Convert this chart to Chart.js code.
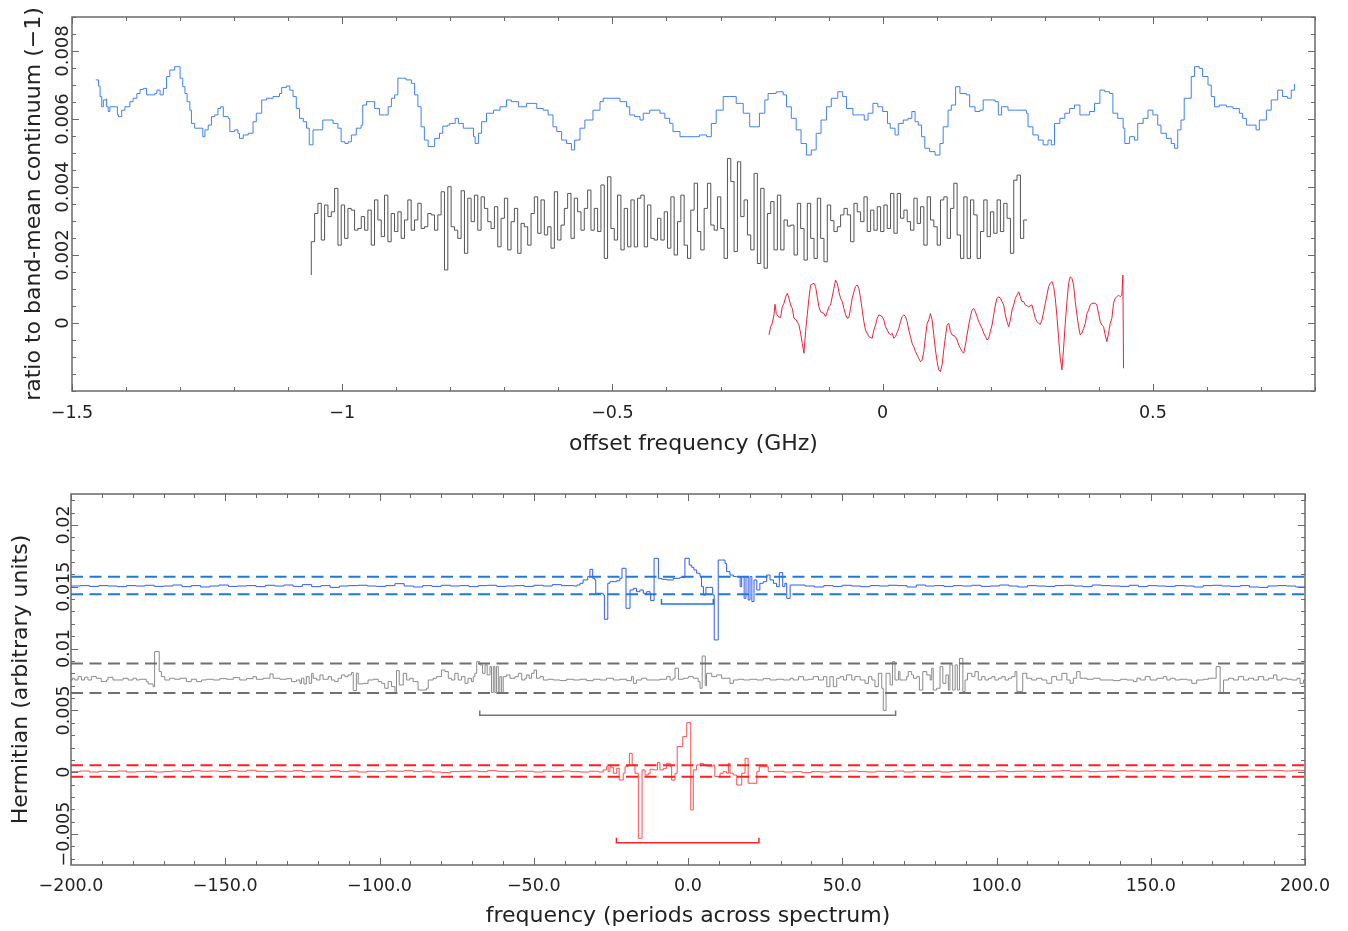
<!DOCTYPE html>
<html><head><meta charset="utf-8">
<script src="https://cdn.jsdelivr.net/npm/chart.js@4.4.1/dist/chart.umd.min.js"></script>
<style>
html,body{margin:0;padding:0;background:#fff;}
#wrap{position:relative;width:1348px;height:931px;overflow:hidden;}
canvas{position:absolute;left:0;}
#c1{top:0;width:1348px;height:470px;}
#c2{top:470px;width:1348px;height:461px;}
</style></head><body>
<div id="wrap"><canvas id="c1" width="1348" height="470"></canvas><canvas id="c2" width="1348" height="461"></canvas></div>
<script>
// ---------- tick labels ----------
const topXTicks = [-1.5, -1, -0.5, 0, 0.5];
const topYTicks = [0, 0.002, 0.004, 0.006, 0.008];
const botXTicks = [-200, -150, -100, -50, 0, 50, 100, 150, 200];
const botYTicks = [-0.005, 0, 0.005, 0.01, 0.015, 0.02];

// ---------- top panel: [offset frequency GHz, ratio] ----------
const blueTop = [[-1.456,0.00715],[-1.451,0.00697],[-1.448,0.00666],[-1.445,0.00636],[-1.442,0.00656],[-1.437,0.00659],[-1.436,0.00636],[-1.433,0.00622],[-1.430,0.00636],[-1.420,0.00636],[-1.416,0.00612],[-1.414,0.00607],[-1.408,0.00626],[-1.402,0.00636],[-1.393,0.00651],[-1.387,0.00661],[-1.380,0.00675],[-1.374,0.00687],[-1.368,0.00690],[-1.362,0.00671],[-1.356,0.00671],[-1.347,0.00675],[-1.343,0.00685],[-1.337,0.00671],[-1.331,0.00690],[-1.325,0.00725],[-1.319,0.00744],[-1.310,0.00754],[-1.307,0.00754],[-1.300,0.00720],[-1.295,0.00695],[-1.291,0.00675],[-1.287,0.00651],[-1.282,0.00626],[-1.279,0.00587],[-1.273,0.00573],[-1.263,0.00573],[-1.258,0.00548],[-1.254,0.00568],[-1.248,0.00582],[-1.242,0.00607],[-1.236,0.00612],[-1.230,0.00631],[-1.225,0.00636],[-1.220,0.00607],[-1.211,0.00602],[-1.208,0.00563],[-1.199,0.00568],[-1.193,0.00558],[-1.190,0.00543],[-1.183,0.00553],[-1.174,0.00558],[-1.165,0.00592],[-1.159,0.00617],[-1.149,0.00656],[-1.140,0.00661],[-1.128,0.00666],[-1.116,0.00675],[-1.112,0.00693],[-1.103,0.00697],[-1.097,0.00685],[-1.091,0.00666],[-1.085,0.00631],[-1.079,0.00602],[-1.072,0.00592],[-1.066,0.00573],[-1.061,0.00524],[-1.054,0.00568],[-1.042,0.00568],[-1.036,0.00597],[-1.026,0.00597],[-1.017,0.00587],[-1.008,0.00573],[-1.002,0.00533],[-0.995,0.00528],[-0.989,0.00533],[-0.983,0.00553],[-0.974,0.00573],[-0.965,0.00582],[-0.962,0.00641],[-0.955,0.00651],[-0.946,0.00651],[-0.940,0.00631],[-0.931,0.00612],[-0.922,0.00612],[-0.915,0.00636],[-0.909,0.00661],[-0.903,0.00671],[-0.897,0.00720],[-0.888,0.00720],[-0.882,0.00715],[-0.872,0.00705],[-0.866,0.00671],[-0.860,0.00636],[-0.854,0.00577],[-0.848,0.00538],[-0.841,0.00519],[-0.832,0.00519],[-0.829,0.00543],[-0.820,0.00558],[-0.814,0.00579],[-0.805,0.00582],
[-0.801,0.00587],[-0.791,0.00602],[-0.785,0.00587],[-0.776,0.00573],[-0.767,0.00573],[-0.757,0.00548],[-0.754,0.00528],[-0.748,0.00558],[-0.742,0.00592],[-0.733,0.00617],[-0.720,0.00626],[-0.708,0.00636],[-0.696,0.00656],[-0.687,0.00651],[-0.674,0.00636],[-0.659,0.00646],[-0.640,0.00631],[-0.628,0.00626],[-0.619,0.00612],[-0.610,0.00577],[-0.603,0.00563],[-0.594,0.00538],[-0.585,0.00528],[-0.576,0.00509],[-0.570,0.00538],[-0.560,0.00573],[-0.551,0.00597],[-0.536,0.00626],[-0.523,0.00651],[-0.517,0.00661],[-0.505,0.00661],[-0.486,0.00651],[-0.474,0.00636],[-0.468,0.00612],[-0.459,0.00607],[-0.449,0.00597],[-0.443,0.00617],[-0.431,0.00626],[-0.412,0.00617],[-0.403,0.00602],[-0.394,0.00587],[-0.388,0.00563],[-0.375,0.00548],[-0.363,0.00548],[-0.351,0.00548],[-0.339,0.00553],[-0.326,0.00548],[-0.317,0.00587],[-0.308,0.00626],[-0.295,0.00666],[-0.283,0.00666],[-0.271,0.00646],[-0.258,0.00617],[-0.246,0.00577],[-0.234,0.00577],[-0.228,0.00617],[-0.218,0.00656],[-0.212,0.00675],[-0.197,0.00680],[-0.184,0.00671],[-0.178,0.00636],[-0.169,0.00602],[-0.160,0.00568],[-0.151,0.00528],[-0.141,0.00494],[-0.132,0.00509],[-0.123,0.00558],[-0.114,0.00597],[-0.104,0.00636],[-0.095,0.00661],[-0.083,0.00680],[-0.074,0.00666],[-0.067,0.00631],[-0.055,0.00612],[-0.043,0.00612],[-0.034,0.00597],[-0.027,0.00617],[-0.018,0.00646],[-0.009,0.00636],[0.000,0.00622],[0.009,0.00587],
[0.014,0.00573],[0.023,0.00553],[0.029,0.00587],[0.038,0.00597],[0.047,0.00602],[0.054,0.00622],[0.060,0.00592],[0.066,0.00582],[0.072,0.00548],[0.078,0.00514],[0.087,0.00504],[0.097,0.00494],[0.106,0.00528],[0.112,0.00577],[0.121,0.00626],[0.127,0.00641],[0.135,0.00695],[0.143,0.00675],[0.155,0.00671],[0.161,0.00636],[0.171,0.00622],[0.180,0.00626],[0.186,0.00656],[0.198,0.00656],[0.208,0.00651],[0.214,0.00612],[0.220,0.00636],[0.232,0.00626],[0.244,0.00626],[0.254,0.00626],[0.266,0.00617],[0.269,0.00577],[0.278,0.00553],[0.288,0.00538],[0.297,0.00524],[0.306,0.00538],[0.312,0.00524],[0.318,0.00587],[0.328,0.00602],[0.337,0.00617],[0.346,0.00631],[0.355,0.00641],[0.365,0.00612],[0.374,0.00612],[0.383,0.00622],[0.392,0.00646],[0.402,0.00685],[0.411,0.00680],[0.420,0.00675],[0.426,0.00617],[0.435,0.00602],[0.445,0.00573],[0.448,0.00528],[0.457,0.00548],[0.466,0.00538],[0.472,0.00587],[0.482,0.00602],[0.491,0.00626],[0.500,0.00612],[0.509,0.00582],[0.515,0.00558],[0.525,0.00543],[0.534,0.00528],[0.540,0.00514],[0.546,0.00568],[0.552,0.00597],[0.558,0.00661],[0.571,0.00725],[0.577,0.00754],[0.586,0.00749],[0.592,0.00725],[0.602,0.00700],[0.608,0.00666],[0.614,0.00636],[0.623,0.00641],[0.636,0.00636],[0.648,0.00631],[0.660,0.00617],[0.666,0.00602],[0.673,0.00582],[0.682,0.00582],[0.691,0.00568],[0.697,0.00597],[0.710,0.00626],[0.719,0.00656],[0.731,0.00685],[0.740,0.00666],[0.749,0.00661],[0.756,0.00685],[0.762,0.00703]];

const grayTop = [[-1.0572,0.00141],
[-1.0572,0.00239],[-1.0510,0.00322],[-1.0449,0.00352],[-1.0387,0.00244],[-1.0326,0.00347],[-1.0264,0.00313],[-1.0202,0.00327],[-1.0141,0.00396],[-1.0079,0.00229],[-1.0018,0.00347],[-0.9956,0.00249],[-0.9894,0.00337],[-0.9833,0.00332],[-0.9771,0.00273],[-0.9710,0.00278],[-0.9648,0.00313],[-0.9586,0.00273],[-0.9525,0.00332],[-0.9463,0.00229],[-0.9402,0.00362],[-0.9340,0.00303],[-0.9278,0.00254],[-0.9217,0.00376],[-0.9155,0.00239],[-0.9094,0.00322],
[-0.9032,0.00269],[-0.8970,0.00327],[-0.8909,0.00249],[-0.8847,0.00303],[-0.8786,0.00362],[-0.8724,0.00273],[-0.8662,0.00303],[-0.8601,0.00352],[-0.8539,0.00278],[-0.8478,0.00283],[-0.8416,0.00322],[-0.8354,0.00318],[-0.8293,0.00273],[-0.8231,0.00318],[-0.8170,0.00386],[-0.8108,0.00156],[-0.8046,0.00401],[-0.7985,0.00283],[-0.7923,0.00273],[-0.7862,0.00249],[-0.7800,0.00389],[-0.7738,0.00205],[-0.7677,0.00367],[-0.7615,0.00298],[-0.7554,0.00376],
[-0.7492,0.00273],[-0.7430,0.00371],[-0.7369,0.00337],[-0.7307,0.00298],[-0.7246,0.00278],[-0.7184,0.00342],[-0.7122,0.00224],[-0.7061,0.00308],[-0.6999,0.00367],[-0.6938,0.00215],[-0.6876,0.00298],[-0.6814,0.00337],[-0.6753,0.00205],[-0.6691,0.00293],[-0.6630,0.00283],[-0.6568,0.00229],[-0.6506,0.00322],[-0.6445,0.00371],[-0.6383,0.00264],[-0.6322,0.00362],[-0.6260,0.00259],[-0.6198,0.00283],[-0.6137,0.00220],[-0.6075,0.00386],[-0.6014,0.00244],
[-0.5952,0.00288],[-0.5890,0.00337],[-0.5829,0.00381],[-0.5767,0.00249],[-0.5706,0.00367],[-0.5644,0.00327],[-0.5582,0.00273],[-0.5521,0.00337],[-0.5459,0.00391],[-0.5398,0.00273],[-0.5336,0.00337],[-0.5274,0.00269],[-0.5213,0.00406],[-0.5151,0.00190],[-0.5090,0.00430],[-0.5028,0.00278],[-0.4966,0.00244],[-0.4905,0.00376],[-0.4843,0.00215],[-0.4782,0.00337],[-0.4720,0.00224],[-0.4658,0.00362],[-0.4597,0.00224],[-0.4535,0.00367],[-0.4474,0.00376],
[-0.4412,0.00224],[-0.4350,0.00347],[-0.4289,0.00249],[-0.4227,0.00244],[-0.4166,0.00308],[-0.4104,0.00244],[-0.4042,0.00327],[-0.3981,0.00220],[-0.3919,0.00371],[-0.3858,0.00200],[-0.3796,0.00298],[-0.3734,0.00376],[-0.3673,0.00229],[-0.3611,0.00190],[-0.3550,0.00332],[-0.3488,0.00411],[-0.3426,0.00269],[-0.3365,0.00215],[-0.3303,0.00337],[-0.3242,0.00411],[-0.3180,0.00288],[-0.3118,0.00273],[-0.3057,0.00371],[-0.2995,0.00278],[-0.2934,0.00190],
[-0.2872,0.00484],[-0.2810,0.00416],[-0.2749,0.00210],[-0.2687,0.00474],[-0.2626,0.00313],[-0.2564,0.00362],[-0.2502,0.00259],[-0.2441,0.00215],[-0.2379,0.00440],[-0.2318,0.00175],[-0.2256,0.00396],[-0.2194,0.00161],[-0.2133,0.00322],[-0.2071,0.00357],[-0.2010,0.00215],[-0.1948,0.00376],[-0.1886,0.00215],[-0.1825,0.00303],[-0.1763,0.00285],[-0.1702,0.00288],[-0.1640,0.00200],[-0.1578,0.00352],[-0.1517,0.00278],[-0.1455,0.00185],[-0.1394,0.00352],
[-0.1332,0.00249],[-0.1270,0.00190],[-0.1209,0.00367],[-0.1147,0.00249],[-0.1086,0.00180],[-0.1024,0.00347],[-0.0962,0.00301],[-0.0901,0.00269],[-0.0839,0.00283],[-0.0778,0.00318],[-0.0716,0.00337],[-0.0654,0.00318],[-0.0593,0.00239],[-0.0531,0.00352],[-0.0470,0.00327],[-0.0408,0.00298],[-0.0346,0.00371],[-0.0285,0.00269],[-0.0223,0.00332],[-0.0162,0.00273],[-0.0100,0.00342],[-0.0038,0.00269],[0.0023,0.00347],[0.0085,0.00278],[0.0146,0.00381],
[0.0208,0.00264],[0.0270,0.00381],[0.0331,0.00308],[0.0393,0.00332],[0.0454,0.00298],[0.0516,0.00273],[0.0578,0.00367],[0.0639,0.00293],[0.0701,0.00342],[0.0762,0.00229],[0.0824,0.00371],[0.0886,0.00303],[0.0947,0.00283],[0.1009,0.00229],[0.1070,0.00362],[0.1132,0.00371],[0.1194,0.00249],[0.1255,0.00337],[0.1317,0.00411],[0.1378,0.00259],[0.1440,0.00190],[0.1502,0.00371],[0.1563,0.00190],[0.1625,0.00362],[0.1686,0.00318],
[0.1748,0.00190],[0.1810,0.00269],[0.1871,0.00362],[0.1933,0.00254],[0.1994,0.00327],[0.2056,0.00264],[0.2118,0.00362],[0.2179,0.00269],[0.2241,0.00352],[0.2302,0.00308],[0.2364,0.00205],[0.2426,0.00420],[0.2487,0.00435],[0.2549,0.00249],[0.2610,0.00303],[0.2672,0.00303]];

const redTop = [[-0.2103,-0.00035],[-0.2072,-0.00011],[-0.2042,-0.00001],[-0.2011,0.00024],[-0.1992,0.00055],[-0.1968,0.00028],[-0.1937,0.00019],[-0.1888,0.00016],[-0.1857,0.00048],[-0.1826,0.00058],[-0.1795,0.00077],[-0.1764,0.00087],[-0.1734,0.00073],[-0.1703,0.00053],[-0.1672,0.00043],[-0.1641,0.00014],[-0.1598,0.00009],[-0.1549,-0.00006],[-0.1518,-0.00030],[-0.1487,-0.00060],[-0.1456,-0.00089],[-0.1426,-0.00025],[-0.1395,0.00024],[-0.1364,0.00073],[-0.1333,0.00112],[-0.1272,0.00117],[-0.1241,0.00107],[-0.1210,0.00077],[-0.1179,0.00048],[-0.1148,0.00033],[-0.1087,0.00028],[-0.1056,0.00019],[-0.1025,0.00033],[-0.0994,0.00048],[-0.0964,0.00053],[-0.0933,0.00077],[-0.0902,0.00102],[-0.0871,0.00126],[-0.0840,0.00117],[-0.0810,0.00092],[-0.0779,0.00073],[-0.0748,0.00063],[-0.0717,0.00043],[-0.0686,0.00024],[-0.0656,0.00014],[-0.0625,0.00016],[-0.0594,0.00043],[-0.0563,0.00073],[-0.0532,0.00092],[-0.0502,0.00107],[-0.0471,0.00112],[-0.0440,0.00102],[-0.0409,0.00073],[-0.0378,0.00038],[-0.0348,0.00004],[-0.0317,-0.00021],[-0.0255,-0.00040],[-0.0194,-0.00045],[-0.0163,-0.00021],[-0.0132,-0.00006],[-0.0101,0.00014],[-0.0070,0.00024],[-0.0009,0.00019],[0.0022,0.00009],[0.0053,-0.00011],[0.0114,-0.00030],[0.0145,-0.00035],[0.0176,-0.00030],[0.0207,-0.00045],[0.0238,-0.00040],[0.0299,-0.00016],[0.0330,0.00004],[0.0361,0.00019],[0.0392,0.00024],[0.0422,0.00019],[0.0453,0.00004],[0.0484,-0.00021],[0.0515,-0.00040],[0.0546,-0.00060],[0.0576,-0.00070],[0.0607,-0.00084],[0.0669,-0.00104],[0.0700,-0.00114],[0.0730,-0.00109],[0.0761,-0.00084],[0.0792,-0.00040],[0.0823,-0.00001],[0.0854,0.00009],[0.0884,0.00028],[0.0915,0.00009],[0.0946,-0.00035],[0.0977,-0.00079],[0.1008,-0.00114],[0.1038,-0.00138],[0.1069,-0.00143],[0.1100,-0.00123],[0.1131,-0.00079],[0.1162,-0.00040],[0.1192,-0.00006],[0.1223,-0.00001],[0.1254,-0.00025],[0.1285,-0.00035],[0.1346,-0.00040],[0.1377,-0.00050],[0.1408,-0.00065],[0.1439,-0.00074],[0.1470,-0.00084],[0.1500,-0.00089],[0.1531,-0.00065],[0.1562,-0.00035],[0.1593,-0.00006],[0.1624,0.00019],[0.1654,0.00038],[0.1685,0.00043],[0.1716,0.00033],[0.1747,0.00019],[0.1778,0.00004],[0.1839,-0.00016],[0.1870,-0.00030],[0.1901,-0.00040],[0.1932,-0.00050],[0.1962,-0.00045],[0.1993,-0.00025],[0.2024,-0.00006],[0.2055,0.00024],[0.2086,0.00053],[0.2116,0.00073],[0.2147,0.00077],[0.2178,0.00073],[0.2209,0.00063],[0.2240,0.00053],[0.2270,0.00024],[0.2301,0.00004],[0.2332,-0.00011],[0.2363,0.00009],[0.2394,0.00038],[0.2424,0.00053],[0.2455,0.00073],[0.2486,0.00082],[0.2517,0.00092],[0.2548,0.00077],[0.2578,0.00063],[0.2609,0.00063],[0.2640,0.00053],[0.2702,0.00048],[0.2763,0.00053],[0.2794,0.00033],[0.2825,0.00014],[0.2856,0.00004],[0.2886,-0.00001],[0.2917,-0.00004],[0.2948,0.00009],[0.2979,0.00033],[0.3010,0.00058],[0.3040,0.00082],[0.3071,0.00107],[0.3102,0.00117],[0.3133,0.00122],[0.3164,0.00107],[0.3194,0.00073],[0.3225,0.00019],[0.3256,-0.00045],[0.3287,-0.00104],[0.3318,-0.00138],[0.3348,-0.00074],[0.3379,-0.00001],[0.3410,0.00063],[0.3441,0.00117],[0.3472,0.00136],[0.3502,0.00131],[0.3533,0.00112],[0.3564,0.00063],[0.3595,0.00024],[0.3626,-0.00011],[0.3656,-0.00035],[0.3687,-0.00030],[0.3718,-0.00016],[0.3749,-0.00001],[0.3780,0.00028],[0.3810,0.00038],[0.3841,0.00053],[0.3872,0.00058],[0.3934,0.00058],[0.3964,0.00053],[0.3995,0.00028],[0.4026,0.00004],[0.4057,-0.00006],[0.4088,-0.00011],[0.4118,-0.00035],[0.4149,-0.00055],[0.4180,-0.00030],[0.4211,-0.00001],[0.4242,0.00014],[0.4272,0.00058],[0.4303,0.00073],[0.4334,0.00077],[0.4365,0.00082],[0.4396,0.00077],[0.4426,0.00082],[0.4445,0.00141],[0.4457,-0.00133]];

// ---------- bottom panel: [frequency (periods), Hermitian] ----------
const blueBot = [[-200,0.01506],[-197,0.01509],[-194,0.01503],[-191,0.01509],[-188,0.01506],[-185,0.01501],[-182,0.01509],[-179,0.01506],[-176,0.01512],[-173,0.01503],[-170,0.01506],[-167,0.01514],[-164,0.01501],[-161,0.01509],[-158,0.01498],[-155,0.01506],[-152,0.01514],[-149,0.01503],[-146,0.01506],[-143,0.01509],[-140,0.01501],[-137,0.01512],[-134,0.01506],[-131,0.01514],[-128,0.01503],[-125,0.01517],[-122,0.01501],[-119,0.01509],[-116,0.01495],[-113,0.01506],[-110,0.01509],[-107,0.01512],[-104,0.01506],[-101,0.01503],[-98,0.01509],[-95,0.01525],[-92,0.01506],[-89,0.01498],[-86,0.01509],[-83,0.01503],[-80,0.01512],[-77,0.01506],[-74,0.01509],[-71,0.01501],[-68,0.01509],[-65,0.01512],[-62,0.01503],[-59,0.01506],[-56,0.01509],[-53,0.01503],[-50,0.01512],[-47,0.01506],[-44,0.01517],[-41,0.01509],
[-37,0.01506],[-36,0.01514],[-35,0.01528],[-34,0.01555],[-32.5,0.01582],[-31.8,0.01641],[-30.9,0.01568],[-30.2,0.01555],[-29.9,0.01447],[-27.5,0.01433],[-27.1,0.01237],[-26.0,0.01528],[-25.3,0.01541],[-23.1,0.01549],[-22.1,0.01568],[-21.4,0.01649],[-20.1,0.01326],[-18.8,0.01474],[-17.7,0.01487],[-16.7,0.01460],[-15.6,0.01474],[-14.5,0.01447],[-13.4,0.01460],[-12.3,0.01447],[-12.1,0.01388],[-11.0,0.01730],[-9.6,0.01568],[-8.5,0.01560],[-6.9,0.01555],[-4.8,0.01568],[-2.6,0.01576],[-1.0,0.01730],[0.4,0.01675],[1.2,0.01657],[1.9,0.01636],[2.8,0.01609],[3.9,0.01582],[4.4,0.01501],[5.0,0.01433],[5.8,0.01495],[6.9,0.01495],[8.0,0.01433],[8.5,0.01070],[9.8,0.01716],[12.0,0.01689],[12.5,0.01622],[13.6,0.01595],[14.7,0.01582],[15.8,0.01582],[16.9,0.01501],[17.4,0.01582],[18.2,0.01406],[18.8,0.01582],[19.5,0.01393],[20.1,0.01582],[20.7,0.01380],[21.4,0.01555],[22.3,0.01474],[23.3,0.01528],[24.4,0.01541],[25.5,0.01595],[26.6,0.01555],[27.7,0.01528],[28.7,0.01501],[29.6,0.01614],[30.7,0.01501],[31.4,0.01528],[32.0,0.01406],[33.1,0.01514],
[35,0.01514],[38,0.01506],[41,0.01498],[44,0.01509],[47,0.01503],[50,0.01512],[53,0.01506],[56,0.01501],[59,0.01509],[62,0.01506],[65,0.01512],[68,0.01509],[71,0.01498],[74,0.01514],[77,0.01506],[80,0.01509],[83,0.01503],[86,0.01509],[89,0.01506],[92,0.01512],[95,0.01503],[98,0.01506],[101,0.01514],[104,0.01506],[107,0.01498],[110,0.01509],[113,0.01506],[116,0.01503],[119,0.01509],[122,0.01512],[125,0.01506],[128,0.01501],[131,0.01514],[134,0.01509],[137,0.01506],[140,0.01503],[143,0.01512],[146,0.01501],[149,0.01509],[152,0.01506],[155,0.01503],[158,0.01509],[161,0.01506],[164,0.01498],[167,0.01509],[170,0.01512],[173,0.01506],[176,0.01503],[179,0.01509],[182,0.01498],[185,0.01495],[188,0.01506],[191,0.01509],[194,0.01506],[197,0.01498],[200,0.01503]];

const grayBot = [[-200,0.00746],[-199.5,0.00760],[-198.8,0.00746],[-197.7,0.00773],[-196.6,0.00746],[-195.6,0.00768],[-194.5,0.00746],[-193.4,0.00773],[-191.8,0.00760],[-190.2,0.00733],[-188.5,0.00746],[-188.0,0.00768],[-186.4,0.00746],[-184.7,0.00746],[-183.1,0.00760],[-181.5,0.00746],[-179.9,0.00760],[-178.8,0.00746],[-177.7,0.00752],[-175.6,0.00733],[-175.0,0.00714],[-173.4,0.00692],[-172.9,0.00975],[-171.4,0.00814],[-170.7,0.00773],[-169.6,0.00746],[-168.0,0.00760],[-166.4,0.00752],[-164.7,0.00760],[-162.6,0.00733],[-161.0,0.00752],[-159.3,0.00733],[-157.7,0.00746],[-156.1,0.00752],[-153.9,0.00746],[-151.8,0.00757],[-149.6,0.00752],[-147.4,0.00765],[-145.3,0.00746],[-143.1,0.00757],[-141.0,0.00773],[-139.9,0.00752],[-137.7,0.00760],[-135.5,0.00795],[-134.5,0.00760],[-132.3,0.00752],[-130.1,0.00757],[-128.5,0.00733],[-126.9,0.00746],[-125.8,0.00719],[-125.3,0.00760],[-124.5,0.00714],[-123.7,0.00773],[-122.8,0.00719],[-122.0,0.00800],[-121.5,0.00760],[-120.4,0.00746],[-119.3,0.00787],[-118.3,0.00752],[-116.6,0.00773],[-115.6,0.00746],[-114.5,0.00733],[-113.4,0.00760],[-112.3,0.00787],[-111.2,0.00773],[-110.2,0.00787],[-109.1,0.00806],[-108.5,0.00660],[-107.5,0.00800],[-106.9,0.00714],[-105.3,0.00719],[-103.7,0.00746],[-102.0,0.00752],[-100.4,0.00733],[-99.3,0.00719],[-98.3,0.00679],[-97.2,0.00733],[-96.1,0.00692],[-95.0,0.00638],[-94.5,0.00822],[-93.6,0.00706],[-92.3,0.00800],[-91.2,0.00746],[-90.2,0.00760],[-89.1,0.00733],[-87.5,0.00665],[-84.8,0.00679],[-84.2,0.00746],[-82.6,0.00760],[-81.5,0.00773],[-79.9,0.00827],[-78.8,0.00814],[-77.7,0.00760],
[-76.7,0.00746],[-75.6,0.00800],[-74.5,0.00746],[-73.4,0.00773],[-72.3,0.00719],[-71.3,0.00760],[-70.2,0.00733],[-69.6,0.00773],[-69.1,0.00800],[-68.5,0.00894],[-67.5,0.00868],[-66.6,0.00800],[-65.8,0.00868],[-65.1,0.00787],[-64.2,0.00854],[-63.7,0.00644],[-63.1,0.00854],[-62.6,0.00644],[-62.1,0.00854],[-61.5,0.00644],[-61.0,0.00773],[-60.4,0.00644],[-59.9,0.00773],[-58.8,0.00787],[-57.7,0.00760],[-56.1,0.00773],[-55.0,0.00800],[-53.9,0.00746],[-52.9,0.00760],[-52.3,0.00787],[-51.5,0.00760],[-50.7,0.00800],[-49.9,0.00827],[-49.1,0.00760],[-48.0,0.00773],[-46.9,0.00746],[-45.3,0.00752],[-43.7,0.00746],[-41.5,0.00741],[-39.4,0.00752],[-37.2,0.00746],[-35.0,0.00752],[-32.9,0.00741],[-30.7,0.00752],[-28.5,0.00746],[-26.4,0.00760],[-24.2,0.00746],[-22.1,0.00752],[-19.9,0.00741],[-18.3,0.00773],[-17.7,0.00719],[-16.7,0.00746],[-15.0,0.00760],[-13.4,0.00746],[-11.2,0.00746],[-9.1,0.00752],[-6.9,0.00773],[-5.8,0.00746],[-4.8,0.00760],[-4.2,0.00841],[-3.1,0.00752],[-1.5,0.00760],[0.1,0.00773],[1.7,0.00760],[3.3,0.00733],[3.9,0.00679],[4.6,0.00940],[5.6,0.00700],[6.0,0.00800],[7.7,0.00773],[9.3,0.00787],[10.9,0.00760],[12.5,0.00760],[13.6,0.00719],[14.7,0.00746],[16.3,0.00752],[18.0,0.00746],[20.1,0.00752],[22.3,0.00746],[24.4,0.00757],[26.6,0.00746],[28.7,0.00752],[30.9,0.00746],[33.1,0.00760],[34.1,0.00746],[35.8,0.00773],[37.4,0.00746],[39.0,0.00752],[40.6,0.00773],[42.3,0.00746],[43.9,0.00773],[45.0,0.00692],[46.0,0.00773],[47.1,0.00692],[48.2,0.00760],[49.3,0.00773],[50.4,0.00746],[51.4,0.00787],[53.1,0.00746],[54.1,0.00773],[55.8,0.00746],[57.4,0.00719],[58.5,0.00773],[59.6,0.00746],[60.6,0.00692],[61.7,0.00800],[62.8,0.00679],[63.3,0.00500],[64.2,0.00800],
[65.5,0.00706],[66.3,0.00894],[67.1,0.00746],[68.2,0.00814],[68.7,0.00746],[69.8,0.00746],[70.9,0.00773],[71.4,0.00814],[72.5,0.00787],[73.1,0.00760],[74.1,0.00773],[75.0,0.00665],[76.1,0.00814],[77.4,0.00787],[78.5,0.00746],[79.0,0.00841],[79.5,0.00665],[80.6,0.00679],[81.7,0.00854],[82.6,0.00719],[83.6,0.00787],[84.4,0.00665],[84.9,0.00868],[85.8,0.00665],[86.6,0.00868],[87.3,0.00665],[88.0,0.00921],[89.1,0.00652],[89.8,0.00746],[90.6,0.00800],[92.0,0.00773],[93.0,0.00814],[94.1,0.00746],[95.2,0.00773],[96.3,0.00746],[97.4,0.00760],[98.5,0.00773],[99.5,0.00746],[100.6,0.00760],[101.7,0.00773],[102.8,0.00746],[103.9,0.00760],[104.9,0.00773],[106.0,0.00814],[106.6,0.00652],[108.5,0.00800],[109.8,0.00760],[111.4,0.00746],[113.0,0.00760],[114.7,0.00746],[116.3,0.00719],[117.9,0.00773],[119.5,0.00746],[121.2,0.00800],[122.8,0.00746],[123.9,0.00719],[124.9,0.00760],[126.0,0.00814],[127.1,0.00760],[129.3,0.00752],[131.4,0.00760],[133.6,0.00746],[135.7,0.00746],[137.9,0.00741],[140.1,0.00752],[142.2,0.00746],[144.4,0.00733],[145.5,0.00760],[146.6,0.00746],[148.2,0.00773],[149.8,0.00746],[152.0,0.00760],[154.1,0.00773],[155.2,0.00746],[156.3,0.00760],[157.9,0.00746],[159.5,0.00752],[161.7,0.00746],[163.3,0.00719],[164.9,0.00746],[167.1,0.00752],[168.7,0.00760],[170.3,0.00760],[171.2,0.00854],[172.5,0.00638],[173.6,0.00746],[175.2,0.00760],[176.8,0.00746],[178.4,0.00773],[180.1,0.00746],[181.7,0.00760],[183.3,0.00746],[184.9,0.00773],[186.6,0.00746],[188.2,0.00760],[189.8,0.00787],[190.9,0.00746],[192.5,0.00760],[194.1,0.00752],[195.7,0.00746],[197.4,0.00760],[198.4,0.00719],[199.5,0.00746],[200,0.00746]];

const redBot = [[-200,0.00005],[-197,0.0001],[-194,0.00002],[-191,0.00008],[-188,0.00005],[-185,0.0001],[-182,0.00002],[-179,0.00005],[-176,0.00008],[-173,0.00002],[-170,0.00005],[-167,0.0001],[-164,0.00005],[-161,0.00013],[-158,0.00008],[-155,0.0001],[-152,0.00005],[-149,0.00013],[-146,0.00008],[-143,0.00016],[-140,0.00008],[-137,0.00005],[-134,0.0001],[-131,0.00008],[-128,0.00013],[-125,0.00005],[-122,0.0001],[-119,0.00008],[-116,0.00013],[-113,0.00005],[-110,0.0001],[-107,0.00002],[-104,0.00008],[-101,0.00005],[-98,0.0001],[-95,0.00008],[-92,0.00013],[-89,0.00005],[-86,0.0001],[-83,0.00002],[-80,-0.00003],[-77,0.00005],[-74,0.00008],[-71,0.0001],[-68,0.00005],[-65,0.00013],[-62,0.00008],[-59,0.00005],[-56,0.0001],[-53,0.00008],[-50,0.00002],[-47,0.00008],[-44,0.00005],[-41,0.0001],[-38,0.00005],[-35,0.00002],[-32,0.00008],[-29,0.00002],
[-27.5,0.00019],[-26.4,0.00045],[-25.9,0.00005],[-25.3,0.00045],[-24.8,0.00040],[-24.2,-0.00008],[-23.1,0.00032],[-22.3,-0.00063],[-21.0,-0.00008],[-20.4,0.00045],[-19.4,0.00059],[-19.0,0.00153],[-18.1,0.00059],[-17.2,-0.00008],[-16.1,-0.00534],[-14.9,0.00019],[-13.9,-0.00022],[-12.9,-0.00008],[-12.3,0.00024],[-11.2,0.00019],[-9.9,0.00078],[-9.1,0.00019],[-8.0,0.00032],[-6.9,0.00072],[-5.8,0.00045],[-5.3,-0.00063],[-4.2,-0.00008],[-3.5,0.00207],[-1.7,0.00288],[-0.4,0.00401],[0.9,-0.00305],[1.7,0.00019],[2.8,0.00059],[3.9,0.00072],[5.0,0.00059],[6.0,0.00050],[7.1,0.00050],[8.2,0.00059],[8.7,-0.00035],[10.4,-0.00008],[11.4,0.00005],[12.5,-0.00008],[13.1,0.00072],[13.6,-0.00008],[14.7,-0.00022],[15.8,-0.00103],[17.4,-0.00008],[18.5,0.00113],[19.5,-0.00089],[22.3,0.00005],[23.1,0.00045],[25.0,0.00045],[26.0,0.00005],
[28,0.00008],[31,0.00002],[34,0.00005],[37,-0.00003],[40,0.00005],[43,0.00002],[46,0.00008],[49,0.00005],[52,0.0001],[55,0.00005],[58,0.00002],[61,0.00008],[64,0.00005],[67,0.0001],[70,0.00002],[73,0.00008],[76,0.00005],[79,0.00008],[82,0.00002],[85,0.00005],[88,0.0001],[91,0.00005],[94,0.00008],[97,0.00005],[100,0.0001],[103,0.00005],[106,0.00008],[109,0.0001],[112,0.00005],[115,0.00008],[118,0.0001],[121,0.00013],[124,0.00008],[127,0.0001],[130,0.00005],[133,0.00008],[136,0.0001],[139,0.00013],[142,0.0001],[145,0.00008],[148,0.0001],[151,0.00013],[154,0.0001],[157,0.00008],[160,0.0001],[163,0.00013],[166,0.0001],[169,0.00008],[172,0.00013],[175,0.0001],[178,0.00013],[181,0.00016],[184,0.00013],[187,0.00016],[190,0.00013],[193,0.0001],[196,0.00016],[199,0.00013],[200,0.00013]];

// dashed band levels [lower, upper]
const blueBand = [0.0144, 0.0158];
const grayBand = [0.0064, 0.0088];
const redBand = [-0.00036, 0.00057];
// brackets: [x start, x end], [tip level, bar level]
const blueBracketX = [-8.6, 8.2], blueBracketY = [0.0140, 0.0136];
const grayBracketX = [-67.5, 67.3], grayBracketY = [0.0050, 0.0046];
const redBracketX = [-23.2, 23.0], redBracketY = [-0.0053, -0.0057];

// ---------- helpers ----------
const FONT = "'DejaVu Sans', sans-serif";
const TXT = '#222222';
const pts = a => a.map(p => ({x: p[0], y: p[1]}));
const fmt = v => String(+Number(v).toFixed(4)).replace('-', '\u2212');
const fmt1 = v => Number(v).toFixed(1).replace('-', '\u2212');
const hline = (y, x0, x1) => [{x: x0, y: y}, {x: x1, y: y}];
const bracket = (xs, ys) => [{x: xs[0], y: ys[0]}, {x: xs[0], y: ys[1]}, {x: xs[1], y: ys[1]}, {x: xs[1], y: ys[0]}];

function makeFrame(cfg) {
  return {
    id: 'frameTicks',
    afterDatasetsDraw(chart) {
      const {ctx, chartArea: a} = chart;
      const sx = chart.scales.x, sy = chart.scales.y;
      const near = (v, list, step) => list.some(m => Math.abs(m - v) < step * 1e-3);
      ctx.save();
      ctx.strokeStyle = cfg.color; ctx.lineWidth = 1;
      ctx.beginPath();
      for (let k = Math.ceil(sx.min / cfg.xMinor - 1e-6); k * cfg.xMinor <= sx.max + cfg.xMinor * 1e-6; k++) {
        const v = k * cfg.xMinor;
        const len = near(v, cfg.xMajor, cfg.xMinor) ? cfg.majorLen : cfg.minorLen;
        const p = Math.round(sx.getPixelForValue(v)) + 0.5;
        ctx.moveTo(p, a.bottom); ctx.lineTo(p, a.bottom - len);
        ctx.moveTo(p, a.top); ctx.lineTo(p, a.top + len);
      }
      for (let k = Math.ceil(sy.min / cfg.yMinor - 1e-6); k * cfg.yMinor <= sy.max + cfg.yMinor * 1e-6; k++) {
        const v = k * cfg.yMinor;
        const len = near(v, cfg.yMajor, cfg.yMinor) ? cfg.majorLen : cfg.minorLen;
        const p = Math.round(sy.getPixelForValue(v)) + 0.5;
        ctx.moveTo(a.left, p); ctx.lineTo(a.left + len, p);
        ctx.moveTo(a.right, p); ctx.lineTo(a.right - len, p);
      }
      ctx.stroke();
      ctx.lineWidth = 1.5;
      ctx.strokeRect(a.left, a.top, a.right - a.left, a.bottom - a.top);
      ctx.restore();
    }
  };
}

function axisX(min, max, ticks, title, height, tickPad, titlePad, size, cb) {
  return {
    type: 'linear', min: min, max: max,
    grid: {display: false}, border: {display: false},
    afterBuildTicks: s => { s.ticks = ticks.map(v => ({value: v})); },
    afterFit: s => { s.height = height; },
    ticks: {autoSkip: false, maxRotation: 0, padding: tickPad, color: TXT, font: {family: FONT, size: size}, callback: cb},
    title: {display: true, text: title, color: TXT, font: {family: FONT, size: 22}, padding: {top: 0, bottom: titlePad}}
  };
}
function axisY(min, max, ticks, title, width, tickPad, titlePad, size) {
  return {
    type: 'linear', min: min, max: max,
    grid: {display: false}, border: {display: false},
    afterBuildTicks: s => { s.ticks = ticks.map(v => ({value: v})); },
    afterFit: s => { s.width = width; },
    ticks: {autoSkip: false, minRotation: 90, maxRotation: 90, crossAlign: 'center', padding: tickPad, color: TXT, font: {family: FONT, size: size}, callback: v => fmt(v)},
    title: {display: true, text: title, color: TXT, font: {family: FONT, size: 22}, padding: {top: titlePad, bottom: 0}}
  };
}
const line = (data, color, width, extra) => Object.assign({data: data, borderColor: color, borderWidth: width, pointRadius: 0, fill: false, tension: 0}, extra || {});

// ---------- top chart ----------
new Chart(document.getElementById('c1'), {
  type: 'line',
  data: {datasets: [
    line(pts(blueTop), '#3f82f2', 1, {stepped: true}),
    line(pts(grayTop), '#555555', 1, {stepped: true}),
    line(pts(redTop), '#f0203a', 1)
  ]},
  options: {
    responsive: false, animation: false, events: [],
    layout: {padding: {top: 17, right: 33, left: 0, bottom: 0}},
    plugins: {legend: {display: false}, tooltip: {enabled: false}},
    scales: {
      x: axisX(-1.5, 0.8, topXTicks, 'offset frequency (GHz)', 79, 4, 13, 17.5, v => fmt(v)),
      y: axisY(-0.002, 0.009, topYTicks, 'ratio to band-mean continuum (\u22121)', 72, -25, 21, 18)
    }
  },
  plugins: [makeFrame({color: '#6a6a6a', xMinor: 0.1, xMajor: topXTicks, yMinor: 0.0005, yMajor: topYTicks, majorLen: 7, minorLen: 4})]
});

// ---------- bottom chart ----------
new Chart(document.getElementById('c2'), {
  type: 'line',
  data: {datasets: [
    line(hline(blueBand[0], -200, 200), '#1f7ad8', 2, {borderDash: [12, 6.5]}),
    line(hline(blueBand[1], -200, 200), '#1f7ad8', 2, {borderDash: [12, 6.5]}),
    line(hline(grayBand[0], -200, 200), '#707070', 2, {borderDash: [12, 6.5]}),
    line(hline(grayBand[1], -200, 200), '#707070', 2, {borderDash: [12, 6.5]}),
    line(hline(redBand[0], -200, 200), '#ff1f1f', 2, {borderDash: [12, 6.5]}),
    line(hline(redBand[1], -200, 200), '#ff1f1f', 2, {borderDash: [12, 6.5]}),
    line(pts(blueBot), '#2f5cf5', 1, {stepped: true}),
    line(pts(grayBot), '#8a8a8a', 1, {stepped: true}),
    line(pts(redBot), '#ff4d4d', 1, {stepped: true}),
    line(bracket(blueBracketX, blueBracketY), '#1f7ad8', 1.5),
    line(bracket(grayBracketX, grayBracketY), '#777777', 1.5),
    line(bracket(redBracketX, redBracketY), '#ff2424', 1.5)
  ]},
  options: {
    responsive: false, animation: false, events: [],
    layout: {padding: {top: 24, right: 43, left: 0, bottom: 0}},
    plugins: {legend: {display: false}, tooltip: {enabled: false}},
    scales: {
      x: axisX(-200, 200, botXTicks, 'frequency (periods across spectrum)', 66, 3, 2, 17.5, v => fmt1(v)),
      y: axisY(-0.0075, 0.0225, botYTicks, 'Hermitian (arbitrary units)', 71, -34, 8, 17.5)
    }
  },
  plugins: [makeFrame({color: '#6a6a6a', xMinor: 10, xMajor: botXTicks, yMinor: 0.001, yMajor: botYTicks, majorLen: 7, minorLen: 4})]
});
</script></body></html>
